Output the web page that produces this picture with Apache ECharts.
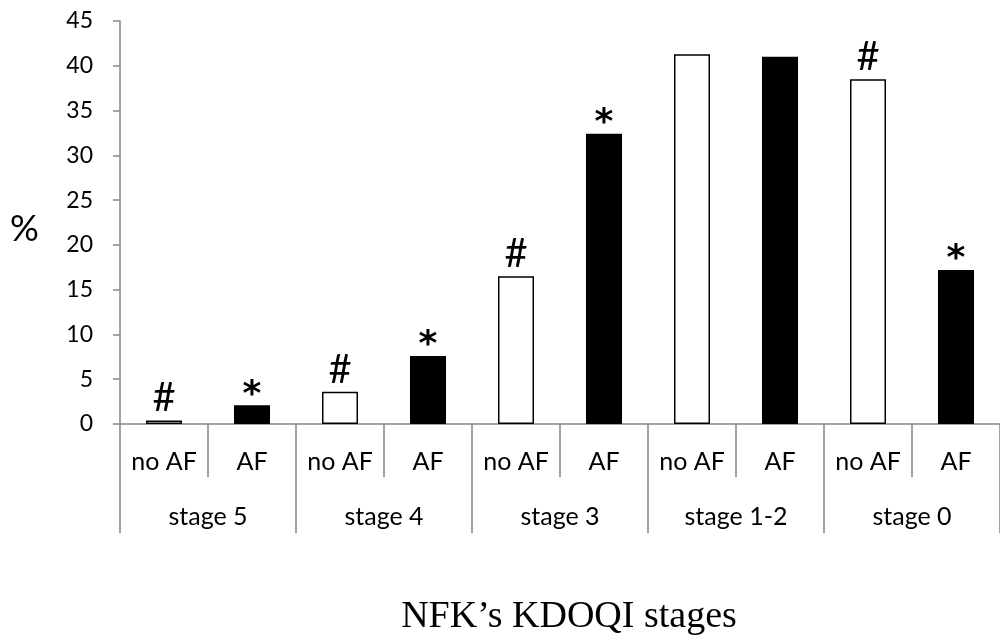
<!DOCTYPE html>
<html>
<head>
<meta charset="utf-8">
<script src="https://cdn.jsdelivr.net/npm/echarts@6/dist/echarts.min.js"></script>
<style>
  html, body { margin: 0; background: #fff; }
  #main { width: 1000px; height: 640px; }
</style>
</head>
<body>
<div id="main"></div>
<script>
  // data
  const stages = ['stage 5', 'stage 4', 'stage 3', 'stage 1-2', 'stage 0']
  const groups = ['no AF', 'AF']
  const noAfValues = [0.4, 3.6, 16.5, 41.3, 38.5]
  const afValues = [2.1, 7.6, 32.4, 41.0, 17.2]
  const noAfMarks = ['#', '#', '#', '', '#']
  const afMarks = ['*', '*', '*', '', '*']

  const axisGray = '#868686'
  const sans = 'Lato'

  // one category per bar: no AF / AF inside every stage
  let categories = stages.flatMap(() => groups)
  let noAfData = noAfValues.flatMap(v => [v, '-'])
  let afData = afValues.flatMap(v => ['-', v])

  let myChart = echarts.init(document.getElementById('main'))
  let option = {
    animation: false,
    grid: { left: 120, right: -8, top: 21, bottom: 216 },
    xAxis: [
      {
        type: 'category',
        data: categories,
        position: 'bottom',
        axisLine: { lineStyle: { color: axisGray, width: 1.5 } },
        axisTick: { show: true, interval: 0, length: 53, lineStyle: { color: axisGray, width: 1.5 } },
        axisLabel: { interval: 0, margin: 25, fontSize: 25, fontFamily: sans, color: '#000' }
      },
      {
        type: 'category',
        data: stages,
        position: 'bottom',
        offset: 0,
        axisLine: { show: false },
        axisTick: { show: true, interval: 0, length: 109, lineStyle: { color: axisGray, width: 1.5 } },
        axisLabel: { interval: 0, margin: 80, fontSize: 25, fontFamily: sans, color: '#000' }
      }
    ],
    yAxis: {
      type: 'value',
      min: 0,
      max: 45,
      interval: 5,
      axisLine: { show: true, lineStyle: { color: axisGray, width: 1.5 } },
      axisTick: { show: true, length: 7, lineStyle: { color: axisGray, width: 1.5 } },
      splitLine: { show: false },
      axisLabel: { margin: 27, fontSize: 23, fontFamily: sans, color: '#000' }
    },
    series: [
      {
        name: 'no AF',
        type: 'bar',
        barWidth: 36,
        barGap: '-100%',
        data: noAfData,
        itemStyle: { color: '#fff', borderColor: '#000', borderWidth: 1.5 },
        label: {
          show: true,
          position: 'top',
          distance: 2,
          fontSize: 40,
          fontFamily: sans,
          color: '#000',
          formatter: p => noAfMarks[Math.floor(p.dataIndex / 2)]
        }
      },
      {
        name: 'AF',
        type: 'bar',
        barWidth: 36,
        barGap: '-100%',
        data: afData,
        itemStyle: { color: '#000' },
        label: {
          show: true,
          position: 'top',
          distance: -8,
          fontSize: 36,
          fontWeight: 'bold',
          fontFamily: 'DejaVu Sans',
          color: '#000',
          formatter: p => afMarks[Math.floor(p.dataIndex / 2)]
        }
      }
    ],
    graphic: [
      { // y axis name
        type: 'text',
        left: 10,
        top: 211,
        style: { text: '%', fontSize: 36, fontFamily: sans, fill: '#000' }
      },
      { // x axis name
        type: 'text',
        x: 569,
        y: 617,
        style: {
          text: 'NFK\u2019s KDOQI stages',
          fontSize: 38,
          fontFamily: 'Liberation Serif',
          fill: '#000',
          align: 'center',
          verticalAlign: 'middle'
        }
      }
    ]
  }
  option && myChart.setOption(option)
</script>
</body>
</html>
